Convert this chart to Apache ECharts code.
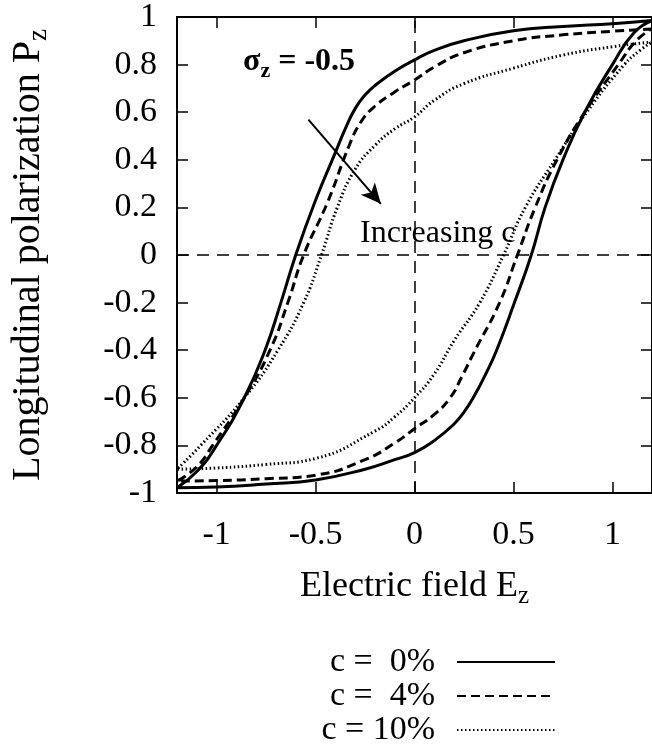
<!DOCTYPE html>
<html>
<head>
<meta charset="utf-8">
<title>Longitudinal polarization loops</title>
<script src="https://cdn.jsdelivr.net/npm/echarts@6/dist/echarts.min.js"></script>
<style>
    html, body { margin: 0; padding: 0; background: #fff; }
    #chart { width: 652px; height: 752px; }
</style>
</head>
<body>
<div id="chart"></div>
<script>
    // tick positions on the field axis
    var xTicks = [-1, -0.5, 0, 0.5, 1];
    var seriesNames = ['c =  0%', 'c =  4%', 'c = 10%'];

    // upper branches (field going down), points are [E, P]
    var c0Upper = [[1.2, 0.985], [1.0, 0.972], [0.75, 0.96], [0.5, 0.942], [0.25, 0.9], [0.1, 0.86], [0, 0.82], [-0.1, 0.772], [-0.2, 0.712], [-0.25, 0.672], [-0.3, 0.615], [-0.35, 0.53], [-0.4, 0.43], [-0.5, 0.23], [-0.6, 0], [-0.675, -0.2], [-0.755, -0.4], [-0.86, -0.6], [-1.0, -0.8], [-1.1, -0.91], [-1.2, -0.978]];
    var c4Upper = [[1.2, 0.95], [1.0, 0.94], [0.75, 0.925], [0.5, 0.9], [0.25, 0.85], [0.1, 0.79], [0, 0.735], [-0.1, 0.685], [-0.2, 0.625], [-0.27, 0.56], [-0.33, 0.46], [-0.44, 0.22], [-0.56, 0], [-0.64, -0.2], [-0.73, -0.4], [-0.86, -0.6], [-1.02, -0.8], [-1.1, -0.89], [-1.2, -0.95]];
    var c10Upper = [[1.2, 0.895], [1.0, 0.875], [0.75, 0.84], [0.5, 0.785], [0.25, 0.72], [0.1, 0.65], [0, 0.58], [-0.1, 0.53], [-0.2, 0.46], [-0.3, 0.36], [-0.39, 0.2], [-0.47, 0], [-0.56, -0.2], [-0.69, -0.4], [-0.86, -0.6], [-1.08, -0.8], [-1.2, -0.9]];

    // lower branches (field going up)
    var c0Lower = [[-1.2, -0.978], [-1.0, -0.975], [-0.75, -0.962], [-0.5, -0.945], [-0.25, -0.9], [-0.1, -0.86], [0, -0.83], [0.1, -0.78], [0.2, -0.71], [0.25, -0.66], [0.3, -0.595], [0.36, -0.5], [0.415, -0.4], [0.505, -0.2], [0.59, 0], [0.66, 0.2], [0.75, 0.4], [0.86, 0.6], [1.0, 0.8], [1.11, 0.935], [1.2, 0.985]];
    var c4Lower = [[-1.2, -0.95], [-1.0, -0.948], [-0.75, -0.94], [-0.5, -0.925], [-0.25, -0.86], [-0.1, -0.79], [0, -0.73], [0.1, -0.67], [0.18, -0.6], [0.24, -0.51], [0.3, -0.41], [0.43, -0.2], [0.52, 0], [0.61, 0.2], [0.72, 0.4], [0.86, 0.6], [1.03, 0.8], [1.12, 0.9], [1.2, 0.95]];
    var c10Lower = [[-1.2, -0.9], [-1.0, -0.895], [-0.75, -0.88], [-0.5, -0.855], [-0.2, -0.74], [-0.1, -0.68], [0, -0.6], [0.1, -0.5], [0.2, -0.36], [0.33, -0.2], [0.45, 0], [0.56, 0.2], [0.71, 0.4], [0.87, 0.6], [1.06, 0.8], [1.14, 0.86], [1.2, 0.895]];

    var font = 'Liberation Serif';
    var chart = echarts.init(document.getElementById('chart'));

    var axisBase = {
        type: 'value',
        axisLine: { show: true, onZero: false, lineStyle: { color: '#000', width: 2 } },
        axisTick: { show: true, inside: true, length: 11, lineStyle: { color: '#000', width: 1.5 } },
        splitLine: { show: false }
    };

    var option = {
        animation: false,
        backgroundColor: '#fff',
        grid: { left: 177, top: 17, right: -6, bottom: 259 },
        xAxis: [
            Object.assign({}, axisBase, {
                min: -1.2, max: 1.2,
                position: 'bottom',
                axisTick: Object.assign({}, axisBase.axisTick, { customValues: xTicks }),
                axisLabel: { customValues: xTicks, margin: 25, color: '#000', fontFamily: font, fontSize: 34 },
                name: '{a|Electric field E}{s|z}',
                nameLocation: 'middle',
                nameGap: 72,
                nameTextStyle: {
                    color: '#000', fontFamily: font,
                    rich: {
                        a: { fontSize: 36, lineHeight: 44, fontFamily: font, color: '#000' },
                        s: { fontSize: 25, lineHeight: 25, verticalAlign: 'bottom', fontFamily: font, color: '#000' }
                    }
                }
            }),
            Object.assign({}, axisBase, {
                min: -1.2, max: 1.2,
                position: 'top',
                axisTick: Object.assign({}, axisBase.axisTick, { customValues: xTicks }),
                axisLabel: { show: false }
            })
        ],
        yAxis: [
            Object.assign({}, axisBase, {
                min: -1, max: 1, interval: 0.2,
                position: 'left',
                axisLabel: { margin: 20, color: '#000', fontFamily: font, fontSize: 34 },
                name: '{a|Longitudinal polarization P}{s|z}',
                nameLocation: 'middle',
                nameGap: 125,
                nameTextStyle: {
                    color: '#000', fontFamily: font,
                    rich: {
                        a: { fontSize: 40, lineHeight: 48, fontFamily: font, color: '#000' },
                        s: { fontSize: 27, lineHeight: 27, verticalAlign: 'bottom', fontFamily: font, color: '#000' }
                    }
                }
            }),
            Object.assign({}, axisBase, {
                min: -1, max: 1, interval: 0.2,
                position: 'right',
                axisLabel: { show: false }
            })
        ],
        legend: {
            orient: 'vertical',
            right: 91,
            top: 640,
            height: 112,
            align: 'right',
            itemWidth: 98,
            itemHeight: 12,
            itemGap: 0,
            data: seriesNames,
            itemStyle: { opacity: 0 },
            textStyle: { color: '#000', fontFamily: font, fontSize: 34, lineHeight: 33, padding: [0, 17, 0, 0] }
        },
        graphic: [
            {
                type: 'text', left: 243, top: 46,
                style: {
                    text: '{a|σ}{s|z}{a| = -0.5}',
                    fill: '#000',
                    rich: {
                        a: { fontSize: 32, lineHeight: 40, fontFamily: font, fontWeight: 'bold', fill: '#000' },
                        s: { fontSize: 22, lineHeight: 22, verticalAlign: 'bottom', fontFamily: font, fontWeight: 'bold', fill: '#000' }
                    }
                }
            },
            {
                type: 'text', left: 360, top: 218,
                style: { text: 'Increasing c', fill: '#000', font: '32px "Liberation Serif"' }
            }
        ],
        series: [
            {
                name: seriesNames[0], type: 'line', xAxisIndex: 0, yAxisIndex: 0,
                data: c0Upper.concat(c0Lower),
                symbol: 'none', showSymbol: false, smooth: 0.5,
                lineStyle: { color: '#000', width: 3, type: 'solid' },
                itemStyle: { color: '#000', opacity: 0 },
                markLine: {
                    silent: true,
                    symbol: ['none', 'none'],
                    label: { show: false },
                    data: [
                        { xAxis: 0, lineStyle: { color: '#000', width: 1.5, type: [12, 8], opacity: 1 } },
                        { yAxis: 0, lineStyle: { color: '#000', width: 1.5, type: [12, 8], opacity: 1 } },
                        [
                            { coord: [-0.536, 0.569], symbol: 'none' },
                            { coord: [-0.17, 0.215], symbol: 'arrow', symbolSize: [14, 20], itemStyle: { color: '#000', opacity: 1 }, lineStyle: { color: '#000', width: 2, type: 'solid', opacity: 1 } }
                        ]
                    ]
                }
            },
            {
                name: seriesNames[1], type: 'line', xAxisIndex: 0, yAxisIndex: 0,
                data: c4Upper.concat(c4Lower),
                symbol: 'none', showSymbol: false, smooth: 0.5,
                lineStyle: { color: '#000', width: 3, type: [9, 5] },
                itemStyle: { color: '#000', opacity: 0 }
            },
            {
                name: seriesNames[2], type: 'line', xAxisIndex: 0, yAxisIndex: 0,
                data: c10Upper.concat(c10Lower),
                symbol: 'none', showSymbol: false, smooth: 0.5,
                lineStyle: { color: '#000', width: 3, type: [1.5, 2.5] },
                itemStyle: { color: '#000', opacity: 0 }
            }
        ]
    };

    chart.setOption(option);
</script>
</body>
</html>
